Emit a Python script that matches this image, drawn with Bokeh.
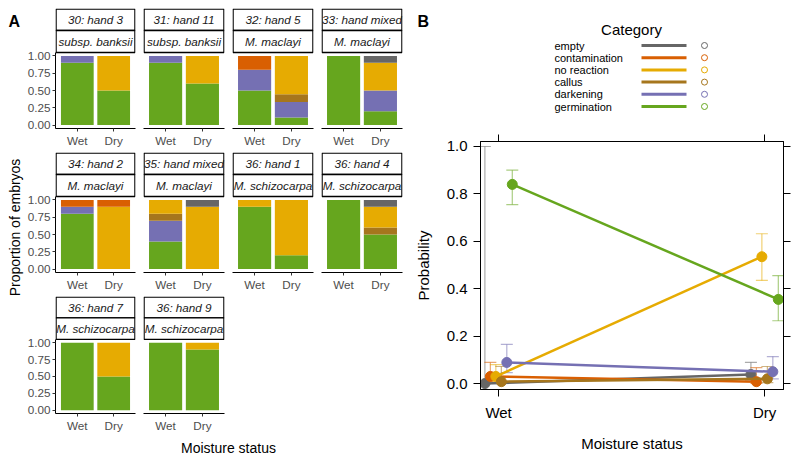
import math
from bokeh.plotting import figure
from bokeh.models import (Range1d, FixedTicker, NumeralTickFormatter, LinearAxis,
                          ColumnDataSource, Whisker, TeeHead, PrintfTickFormatter)
from bokeh.layouts import row, column
from bokeh.embed import file_html
from bokeh.resources import INLINE
from bokeh.core.properties import value

FONT = "Liberation Sans"

# ---------------- data ----------------
categories = ["empty", "contamination", "no reaction", "callus", "darkening", "germination"]
cat_colors = ["#666666", "#D95F02", "#E6AB02", "#A6761D", "#7570B3", "#66A61E"]
moisture = ["Wet", "Dry"]

facet_ids = ["30: hand 3", "31: hand 11", "32: hand 5", "33: hand mixed",
             "34: hand 2", "35: hand mixed", "36: hand 1", "36: hand 4",
             "36: hand 7", "36: hand 9"]
facet_taxa = ["subsp. banksii", "subsp. banksii", "M. maclayi", "M. maclayi",
              "M. maclayi", "M. maclayi", "M. schizocarpa", "M. schizocarpa",
              "M. schizocarpa", "M. schizocarpa"]

# proportions of embryos per facet (Wet / Dry)
empty_wet = [0, 0, 0, 0, 0, 0, 0, 0, 0, 0]
empty_dry = [0, 0, 0, 0.1, 0, 0.1, 0, 0.1, 0, 0]
contamination_wet = [0, 0, 0.2, 0, 0.1, 0, 0, 0, 0, 0]
contamination_dry = [0, 0, 0, 0, 0.1, 0, 0, 0, 0, 0]
noreaction_wet = [0, 0, 0, 0, 0, 0.2, 0.1, 0, 0, 0]
noreaction_dry = [0.5, 0.4, 0.556, 0.4, 0.9, 0.9, 0.8, 0.3, 0.5, 0.1]
callus_wet = [0, 0, 0, 0, 0, 0.1, 0, 0, 0, 0]
callus_dry = [0, 0, 0.111, 0, 0, 0, 0, 0.1, 0, 0]
darkening_wet = [0.1, 0.1, 0.3, 0, 0.1, 0.3, 0, 0, 0, 0]
darkening_dry = [0, 0, 0.222, 0.3, 0, 0, 0, 0, 0, 0]
germination_wet = [0.9, 0.9, 0.5, 1.0, 0.8, 0.4, 0.9, 1.0, 1.0, 1.0]
germination_dry = [0.5, 0.6, 0.111, 0.2, 0, 0, 0.2, 0.5, 0.5, 0.9]

wet_props = dict(zip(categories, [empty_wet, contamination_wet, noreaction_wet,
                                  callus_wet, darkening_wet, germination_wet]))
dry_props = dict(zip(categories, [empty_dry, contamination_dry, noreaction_dry,
                                  callus_dry, darkening_dry, germination_dry]))

a_y_ticks = [0, 0.25, 0.5, 0.75, 1.0]

# panel B: predicted probabilities (Wet, Dry) with confidence limits
prob_wet = [0.0, 0.03, 0.03, 0.008, 0.089, 0.84]
prob_dry = [0.038, 0.008, 0.535, 0.02, 0.05, 0.355]
lower_wet = [0.0, 0.01, 0.01, 0.001, 0.046, 0.755]
upper_wet = [1.0, 0.089, 0.08, 0.072, 0.165, 0.90]
lower_dry = [0.012, 0.001, 0.435, 0.004, 0.02, 0.265]
upper_dry = [0.089, 0.067, 0.632, 0.072, 0.114, 0.455]
b_y_ticks = [0, 0.2, 0.4, 0.6, 0.8, 1.0]

# ---------------- layout constants ----------------
PANEL_W = 81
PANEL_H = 76
STRIP_H = 44
FRAME_H = PANEL_H + STRIP_H
Y0, Y1 = -0.05, 1.05
UNIT_PER_PX = (Y1 - Y0) / PANEL_H
STRIP_U = STRIP_H * UNIT_PER_PX
TXT_A = "11.7px"
GREY30 = "#4D4D4D"
TOTAL_H = 454


def base_fig(**kw):
    p = figure(toolbar_location=None, output_backend="svg", **kw)
    p.background_fill_color = "white"
    p.border_fill_color = "white"
    p.outline_line_color = None
    p.frame_align = False
    return p


def facet_fig(k, show_y, top, bottom):
    left = 30 if show_y else 4
    p = base_fig(width=left + PANEL_W + 4, height=top + FRAME_H + bottom,
                 x_range=Range1d(0.4, 2.6), y_range=Range1d(Y0, Y1 + STRIP_U),
                 min_border_left=left, min_border_right=4, min_border_top=top,
                 min_border_bottom=bottom)
    p.grid.visible = False
    src = ColumnDataSource(dict(x=[1, 2], **{c: [wet_props[c][k], dry_props[c][k]]
                                             for c in categories}))
    order = list(reversed(categories))
    cols = list(reversed(cat_colors))
    p.vbar_stack(stackers=order, x="x", width=0.9, color=cols, line_color=None,
                 source=src)
    # strips
    e = 0.6 / 37.0
    ylo = Y1
    ymid = Y1 + STRIP_U / 2
    yhi = Y1 + STRIP_U - 0.6 * UNIT_PER_PX
    p.quad(left=[0.4 + e, 0.4 + e], right=[2.6 - e, 2.6 - e], bottom=[ymid, ylo],
           top=[yhi, ymid], fill_color="white", line_color="black", line_width=1.3)
    p.text(x=[1.5, 1.5], y=[(ymid + yhi) / 2, (ylo + ymid) / 2],
           text=[facet_ids[k], facet_taxa[k]], text_font=value(FONT),
           text_font_style="italic", text_font_size=TXT_A, text_align="center",
           text_baseline="middle", text_color="#1A1A1A")
    xa = p.xaxis[0]
    xa.ticker = FixedTicker(ticks=[1, 2])
    xa.major_label_overrides = {1: moisture[0], 2: moisture[1]}
    xa.minor_tick_line_color = None
    xa.major_tick_in = 0
    xa.major_tick_out = 3
    xa.major_tick_line_color = "#333333"
    xa.axis_line_color = "black"
    xa.major_label_standoff = 2
    xa.major_label_text_font = FONT
    xa.major_label_text_font_size = TXT_A
    xa.major_label_text_color = GREY30
    ya = p.yaxis[0]
    if show_y:
        ya.ticker = FixedTicker(ticks=a_y_ticks)
        ya.formatter = NumeralTickFormatter(format="0.00")
        ya.bounds = (Y0, Y1)
        ya.minor_tick_line_color = None
        ya.major_tick_in = 0
        ya.major_tick_out = 3
        ya.major_tick_line_color = "#333333"
        ya.axis_line_color = "black"
        ya.major_label_standoff = 2
        ya.major_label_text_font = FONT
        ya.major_label_text_font_size = TXT_A
        ya.major_label_text_color = GREY30
    else:
        ya.visible = False
    return p


rows_a = []
tops = [8, 0, 0]
bottoms = [24, 24, 18]
for r in range(3):
    figs = []
    for c in range(4):
        k = r * 4 + c
        if k >= len(facet_ids):
            break
        figs.append(facet_fig(k, c == 0, tops[r], bottoms[r]))
    rows_a.append(row(*figs))

# x-axis title for panel A
XL_W = 382
XL_H = TOTAL_H - sum(tops) - 3 * FRAME_H - sum(bottoms)
xlab = base_fig(width=XL_W, height=XL_H, x_range=Range1d(0, XL_W), y_range=Range1d(0, XL_H),
                min_border=0, x_axis_type=None, y_axis_type=None)
xlab.grid.visible = False
xlab.text(x=[204], y=[TOTAL_H - 447], text=["Moisture status"], text_font=value(FONT),
          text_font_size="14px", text_align="center", text_baseline="alphabetic",
          text_color="black")

# left strip: "A" and y-axis title
LL_W = 24
leftlab = base_fig(width=LL_W, height=TOTAL_H, x_range=Range1d(0, LL_W),
                   y_range=Range1d(0, TOTAL_H), min_border=0,
                   x_axis_type=None, y_axis_type=None)
leftlab.grid.visible = False
leftlab.text(x=[8], y=[TOTAL_H - 20.5], text=["A"], text_font=value(FONT),
             text_font_style="bold", text_font_size="16px", text_baseline="alphabetic",
             text_align="left", text_color="black")
leftlab.text(x=[14], y=[TOTAL_H - 227], text=["Proportion of embryos"],
             text_font=value(FONT), text_font_size="14px", angle=math.pi / 2,
             text_align="center", text_baseline="middle", text_color="black")

# ---------------- panel B ----------------
B_W = 386
LEG_H = 128
leg = base_fig(width=B_W, height=LEG_H, x_range=Range1d(0, B_W), y_range=Range1d(0, LEG_H),
               min_border=0, x_axis_type=None, y_axis_type=None)
leg.grid.visible = False
leg.text(x=[11], y=[LEG_H - 21], text=["B"], text_font=value(FONT),
         text_font_style="bold", text_font_size="16px", text_baseline="alphabetic",
         text_color="black")
leg.text(x=[225], y=[LEG_H - 29], text=["Category"], text_font=value(FONT),
         text_font_size="15px", text_align="center", text_baseline="middle",
         text_color="black")
leg_y = [LEG_H - (45 + 12.2 * i) for i in range(len(categories))]
leg.text(x=[148] * len(categories), y=leg_y, text=categories, text_font=value(FONT),
         text_font_size="11px", text_align="left", text_baseline="middle",
         text_color="black")
leg.segment(x0=[235] * len(categories), x1=[280] * len(categories), y0=leg_y, y1=leg_y,
            line_color=cat_colors, line_width=3)
leg.scatter(x=[298] * len(categories), y=leg_y, size=6, fill_color=None,
            line_color=cat_colors, line_width=1)

PB_H = TOTAL_H - LEG_H
pB = base_fig(width=B_W, height=PB_H, x_range=Range1d(0.932, 2.071),
              y_range=Range1d(-0.025, 1.021), min_border_left=74, min_border_right=9,
              min_border_top=13, min_border_bottom=PB_H - 13 - 248)
pB.grid.visible = False
pB.outline_line_color = "black"
pB.add_layout(LinearAxis(), "above")
pB.add_layout(LinearAxis(), "right")
for ax in pB.axis:
    ax.minor_tick_line_color = None
    ax.major_tick_in = 0
    ax.major_tick_out = 7
    ax.major_tick_line_color = "black"
    ax.axis_line_color = "black"
    ax.major_label_text_font = FONT
    ax.major_label_text_font_size = "15px"
    ax.major_label_text_color = "black"
for ax in [pB.below[0], pB.above[0]]:
    ax.ticker = FixedTicker(ticks=[1, 2])
    ax.major_label_overrides = {1: moisture[0], 2: moisture[1]}
for ax in [pB.left[0], pB.right[0]]:
    ax.ticker = FixedTicker(ticks=b_y_ticks)
    ax.formatter = NumeralTickFormatter(format="0.0")
for ax in [pB.above[0], pB.right[0]]:
    ax.formatter = PrintfTickFormatter(format="")
    ax.major_label_overrides = {}
    ax.major_label_text_font_size = "1px"
    ax.major_label_text_color = None
    ax.major_label_standoff = 0
bx = pB.below[0]
bx.axis_label = "Moisture status"
bx.major_label_standoff = 7
bx.axis_label_standoff = 11
ly = pB.left[0]
ly.axis_label = "Probability"
ly.major_label_standoff = 6
ly.axis_label_standoff = 12
for ax in [bx, ly]:
    ax.axis_label_text_font = FONT
    ax.axis_label_text_font_size = "15px"
    ax.axis_label_text_font_style = "normal"
    ax.axis_label_text_color = "black"

DODGE = 0.0206
for i, (cat, col) in enumerate(zip(categories, cat_colors)):
    off = (i - 2.5) * DODGE
    src = ColumnDataSource(dict(x=[1 + off, 2 + off], y=[prob_wet[i], prob_dry[i]],
                                lower=[lower_wet[i], lower_dry[i]],
                                upper=[upper_wet[i], upper_dry[i]]))
    w = Whisker(source=src, base="x", lower="lower", upper="upper", dimension="height",
                line_color=col, line_alpha=0.55, line_width=1.2,
                upper_head=TeeHead(size=12, line_color=col, line_alpha=0.55, line_width=1.2),
                lower_head=TeeHead(size=12, line_color=col, line_alpha=0.55, line_width=1.2))
    pB.add_layout(w)
    pB.line("x", "y", source=src, line_color=col, line_width=2.5)
    pB.scatter("x", "y", source=src, size=10, fill_color=col, line_color=col)

layout = row(leftlab, column(*rows_a, xlab), column(leg, pB))

open("out.html", "w").write(file_html(layout, INLINE))
